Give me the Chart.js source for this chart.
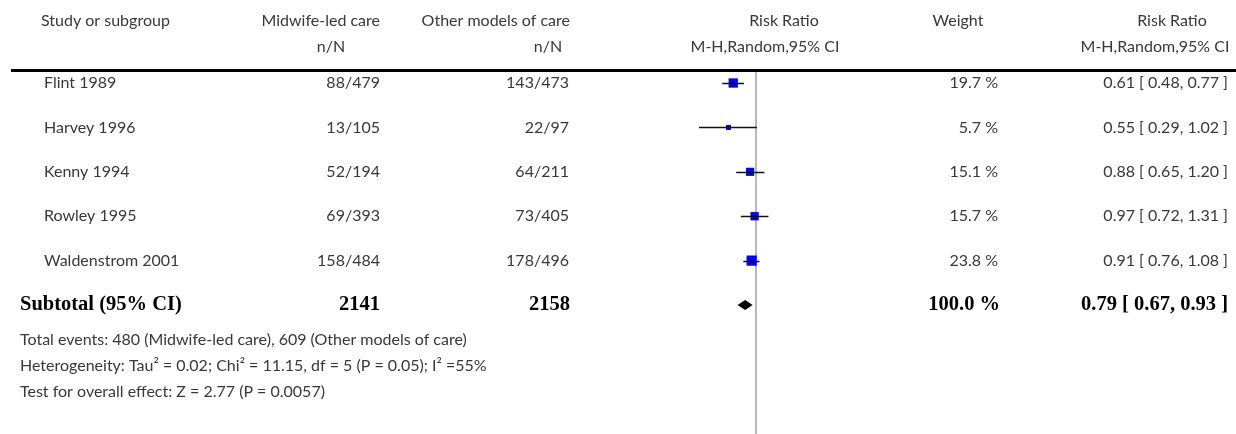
<!DOCTYPE html>
<html><head><meta charset="utf-8">
<script src="https://cdn.jsdelivr.net/npm/chart.js@4.4.1/dist/chart.umd.min.js"></script>
<style>html,body{margin:0;padding:0;background:#fff;overflow:hidden}#wrap{width:1236px;height:434px;position:relative}</style>
</head><body><div id="wrap"><canvas id="c" width="1236" height="434"></canvas></div>
<script>
const studies = ["Flint 1989", "Harvey 1996", "Kenny 1994", "Rowley 1995", "Waldenstrom 2001"];
const midwifeN = ["88/479", "13/105", "52/194", "69/393", "158/484"];
const otherN = ["143/473", "22/97", "64/211", "73/405", "178/496"];
const riskRatio = [0.61, 0.55, 0.88, 0.97, 0.91];
const ciLow = [0.48, 0.29, 0.65, 0.72, 0.76];
const ciHigh = [0.77, 1.02, 1.20, 1.31, 1.08];
const weights = [19.7, 5.7, 15.1, 15.7, 23.8];
const subtotalRR = [0.79, 0.67, 0.93];
const subtotalN = ["2141", "2158"];
const subtotalWeight = [100.0];
const headers1 = ["Study or subgroup", "Midwife-led care", "Other models of care", "Risk Ratio", "Weight", "Risk Ratio"];
const headers2 = ["", "n/N", "n/N", "M-H,Random,95% CI", "", "M-H,Random,95% CI"];
const footnotes = [
  "Total events: 480 (Midwife-led care), 609 (Other models of care)",
  "Heterogeneity: Tau\u00B2 = 0.02; Chi\u00B2 = 11.15, df = 5 (P = 0.05); I\u00B2 =55%",
  "Test for overall effect: Z = 2.77 (P = 0.0057)"
];

const REG = "16px Lato";
const BOLD = "bold 20.5px 'Liberation Serif'";
const TXT = "#383838";
const fmt = v => v.toFixed(2);

function boxSide(w){ return 2.1 * Math.sqrt(w); }

const forestPlugin = {
  id: 'forest',
  beforeDatasetsDraw(chart){
    const {ctx, chartArea:a, scales:{x}} = chart;
    const px = Math.round(x.getPixelForValue(1));
    ctx.save();
    ctx.strokeStyle = '#b8b8b8';
    ctx.lineWidth = 2;
    ctx.beginPath(); ctx.moveTo(px, a.top); ctx.lineTo(px, a.bottom); ctx.stroke();
    ctx.restore();
  },
  afterDatasetsDraw(chart){
    const {ctx, scales:{x, y}} = chart;
    ctx.save();
    ctx.strokeStyle = '#111';
    ctx.lineWidth = 1.5;
    riskRatio.forEach((v, i) => {
      const yy = Math.round(y.getPixelForValue(i)) + 0.5;
      ctx.beginPath();
      ctx.moveTo(x.getPixelForValue(ciLow[i]), yy);
      ctx.lineTo(x.getPixelForValue(ciHigh[i]), yy);
      ctx.stroke();
      const cx = x.getPixelForValue(v);
      ctx.beginPath(); ctx.moveTo(cx, yy - 2); ctx.lineTo(cx, yy + 2); ctx.stroke();
    });
    const dy = y.getPixelForValue(studies.length);
    ctx.fillStyle = '#000';
    ctx.beginPath();
    ctx.moveTo(x.getPixelForValue(subtotalRR[1]), dy);
    ctx.lineTo(x.getPixelForValue(subtotalRR[0]), dy - 5);
    ctx.lineTo(x.getPixelForValue(subtotalRR[2]), dy);
    ctx.lineTo(x.getPixelForValue(subtotalRR[0]), dy + 5);
    ctx.closePath(); ctx.fill();
    ctx.restore();
  },
  afterDraw(chart){
    const {ctx, scales:{y}} = chart;
    ctx.save();
    ctx.textBaseline = 'middle';
    ctx.fillStyle = TXT;
    ctx.font = REG;
    const t = (s, xx, yy, al) => { ctx.textAlign = al; ctx.fillText(s, xx, yy); };
    t(headers1[0], 41, 21, 'left');
    t(headers1[1], 380, 21, 'right');
    t(headers1[2], 570, 21, 'right');
    t(headers1[3], 784, 21, 'center');
    t(headers1[4], 958, 21, 'center');
    t(headers1[5], 1172, 21, 'center');
    t(headers2[1], 331, 47, 'center');
    t(headers2[2], 548, 47, 'center');
    t(headers2[3], 765, 47, 'center');
    t(headers2[5], 1155, 47, 'center');
    ctx.fillStyle = '#000';
    ctx.fillRect(11, 69, 1225, 3);
    ctx.fillStyle = TXT;
    studies.forEach((s, i) => {
      const yy = y.getPixelForValue(i);
      t(s, 44, yy, 'left');
      t(midwifeN[i], 380, yy, 'right');
      t(otherN[i], 569, yy, 'right');
      t(weights[i].toFixed(1) + ' %', 998, yy, 'right');
      t(fmt(riskRatio[i]) + ' [ ' + fmt(ciLow[i]) + ', ' + fmt(ciHigh[i]) + ' ]', 1228, yy, 'right');
    });
    const sy = y.getPixelForValue(studies.length);
    ctx.font = BOLD; ctx.fillStyle = '#000';
    t("Subtotal (95% CI)", 20, sy, 'left');
    t(subtotalN[0], 380, sy, 'right');
    t(subtotalN[1], 570, sy, 'right');
    t(subtotalWeight[0].toFixed(1) + ' %', 1000, sy, 'right');
    t(fmt(subtotalRR[0]) + ' [ ' + fmt(subtotalRR[1]) + ', ' + fmt(subtotalRR[2]) + ' ]', 1228, sy, 'right');
    ctx.font = REG; ctx.fillStyle = TXT;
    footnotes.forEach((f, k) => t(f, 20, sy + 35 + 26 * k, 'left'));
    ctx.restore();
  }
};

new Chart(document.getElementById('c'), {
  type: 'scatter',
  data: {
    datasets: [{
      data: riskRatio.map((v, i) => ({x: v, y: i})),
      pointStyle: 'rect',
      pointRadius: weights.map(w => boxSide(w) / Math.SQRT2),
      pointBackgroundColor: '#0000ff',
      pointBorderWidth: 0,
      pointHoverRadius: weights.map(w => boxSide(w) / Math.SQRT2)
    }]
  },
  options: {
    responsive: false,
    animation: false,
    devicePixelRatio: 1,
    layout: {autoPadding: false, padding: {left: 650, right: 374, top: 70, bottom: 0}},
    scales: {
      x: {type: 'logarithmic', min: 0.1, max: 10, display: false},
      y: {type: 'linear', min: -0.293, max: 7.905, reverse: true, display: false}
    },
    plugins: {legend: {display: false}, tooltip: {enabled: false}}
  },
  plugins: [forestPlugin]
});
</script></body></html>
